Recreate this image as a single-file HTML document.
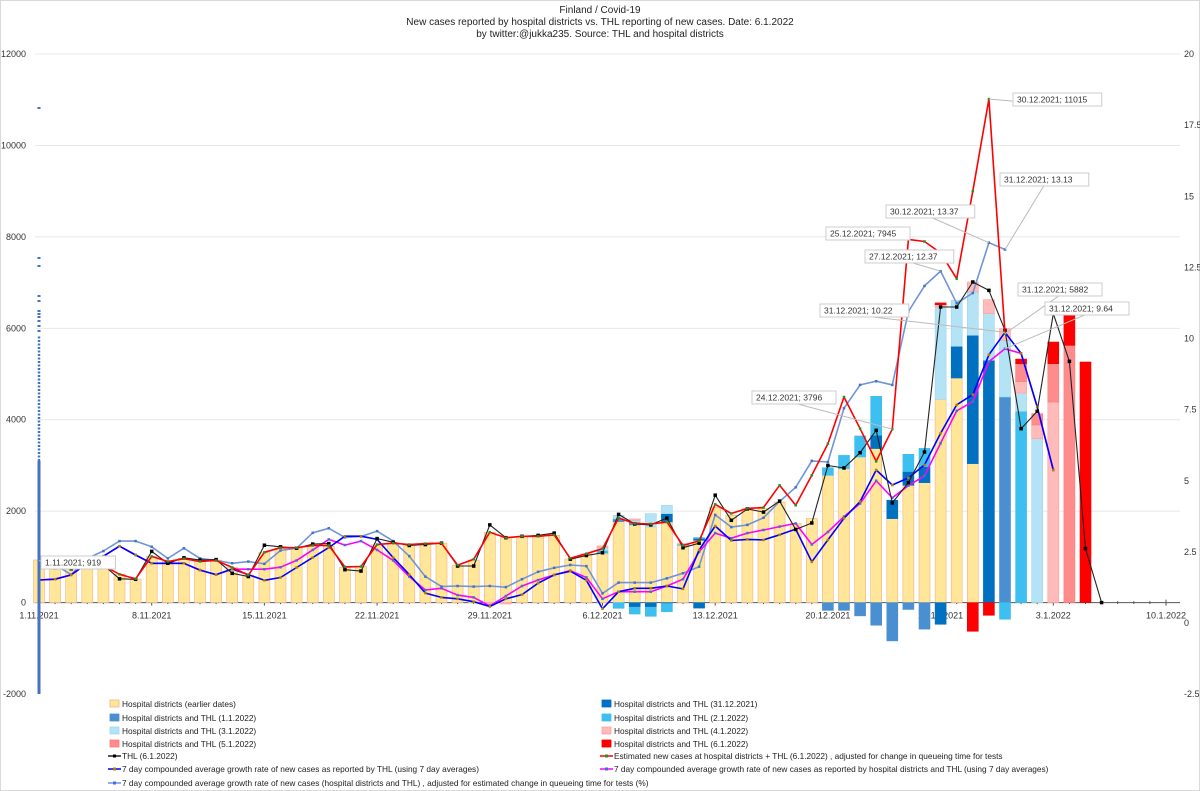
<!DOCTYPE html>
<html><head><meta charset="utf-8"><style>
html,body{margin:0;padding:0;background:#fff;}
svg{display:block;font-family:"Liberation Sans",sans-serif;}
</style></head><body>
<svg id="chart" width="1200" height="791" viewBox="0 0 1200 791" xmlns="http://www.w3.org/2000/svg">
<rect x="0.5" y="0.5" width="1199" height="790" fill="#fff" stroke="#d9d9d9"/>
<g font-size="10" fill="#222" text-anchor="middle">
<text x="600" y="13">Finland / Covid-19</text>
<text x="600" y="25">New cases reported by hospital districts vs. THL reporting of new cases. Date: 6.1.2022</text>
<text x="600" y="37">by twitter:@jukka235. Source: THL and hospital districts</text>
</g>
<g id="grid"></g>
<g id="axes"></g>
<g id="bars"></g>
<g id="lines"></g>
<g id="callouts"></g>
<g id="legend"></g>
</svg>
<script>
const startDay = "1.11.2021";
const xTickLabels = ["1.11.2021","8.11.2021","15.11.2021","22.11.2021","29.11.2021","6.12.2021","13.12.2021","20.12.2021","27.12.2021","3.1.2022","10.1.2022"];
const leftTicks = [-2000,0,2000,4000,6000,8000,10000,12000];
const rightTicks = [-2.5,0,2.5,5,7.5,10,12.5,15,17.5,20];
const earlier = [933,770,750,770,800,620,515,1007,900,970,900,930,765,600,1095,1190,1190,1250,1230,770,790,1265,1300,1265,1285,1300,810,930,1536,1425,1448,1448,1470,955,1065,1080,1770,1700,1655,1765,1254,1363,2090,1910,2055,2055,2200,1730,1840,2785,2930,3186,3370,1837,2566,2624,4447,4913,3040,0,0,0,0,0,0,0,0];
const thl3112 = [0,0,0,0,0,0,0,0,0,0,0,0,0,0,0,0,0,0,0,0,0,0,0,0,0,0,0,0,0,0,0,0,0,0,0,0,0,-100,-100,-20,0,-120,0,0,0,0,0,0,0,0,0,0,290,403,300,350,-474,693,2807,5300,0,0,0,0,0,0,0];
const thl3112pos = [0,0,0,0,0,0,0,0,0,0,0,0,0,0,0,0,0,0,0,0,0,0,0,0,0,0,0,0,0,0,0,0,0,0,0,0,0,0,0,180,0,40,0,0,0,0,0,0,0,0,0,0,0,0,0,0,0,0,0,0,0,0,0,0,0,0,0];
const thl0101 = [0,0,0,0,0,0,0,0,0,0,0,0,0,0,0,0,0,0,0,0,0,0,0,0,0,0,0,0,0,0,0,0,0,0,0,0,60,60,0,0,0,0,0,0,0,0,0,0,0,-170,-170,-290,-495,-838,-150,-580,0,0,0,0,4498,0,0,0,0,0,0];
const thl0201 = [0,0,0,0,0,0,0,0,0,0,0,0,0,0,0,0,0,0,0,0,0,0,0,0,0,0,0,0,0,0,0,0,0,0,0,60,-125,-150,-200,-180,20,20,0,0,0,0,0,0,0,165,290,459,852,0,378,400,0,0,0,0,-364,4184,0,0,0,0,0];
const thl0301 = [0,0,0,0,0,0,0,0,0,0,0,0,0,0,0,0,0,0,0,0,0,0,0,0,0,0,0,0,0,0,0,0,0,0,0,60,80,40,291,182,0,0,0,0,0,0,0,0,0,0,0,0,0,0,0,0,2019,1006,947,1020,1239,400,3587,0,0,0,0];
const thl0401 = [0,0,0,0,0,0,0,0,0,0,0,0,0,0,0,0,0,0,0,0,0,0,0,0,0,0,0,0,-30,-30,0,0,0,0,0,40,0,30,0,0,20,0,0,0,0,0,0,0,0,0,0,0,0,0,0,0,50,0,219,307,255,250,300,4388,0,0,0];
const thl0501 = [0,0,0,0,0,0,0,0,0,0,0,0,0,0,0,0,0,0,0,0,0,0,0,0,0,0,0,0,0,0,0,0,0,0,0,0,0,0,0,0,0,0,0,0,0,0,0,0,0,0,0,0,0,0,0,0,0,0,0,0,0,393,246,839,5628,0,0];
const thl0601 = [0,0,0,0,0,0,0,0,0,0,0,0,0,0,0,0,0,0,0,0,0,0,0,0,0,0,0,0,0,0,0,0,0,0,0,0,0,0,0,0,0,0,0,0,0,0,0,0,0,0,0,0,0,0,0,0,40,0,-627,-277,0,100,0,473,692,5263,0];
const thlLine = [null,760,740,780,820,520,510,1120,860,980,930,940,640,570,1255,1220,1190,1280,1290,720,690,1400,1320,1250,1270,1300,800,800,1700,1420,1450,1470,1520,950,1030,1090,1930,1720,1700,1850,1200,1300,2350,1800,2050,1980,2220,1600,1742,3000,2945,3280,3769,2180,2624,3295,6466,6466,7013,6830,5956,3805,4184,6320,5277,1181,0];
const estLine = [919,780,760,780,810,620,520,1010,900,960,900,920,770,600,1100,1200,1200,1250,1250,780,790,1270,1300,1270,1290,1300,820,950,1540,1420,1450,1450,1480,970,1070,1180,1850,1730,1720,1760,1250,1350,2150,1950,2060,2080,2566,2129,2785,3477,4498,3805,3090,3796,7945,7900,7650,7086,9000,11015,5882,null,null,null,null,null,null];
const growthTHL = [1.51,1.54,1.69,2.1,2.35,2.7,2.39,2.1,2.1,2.1,1.86,1.7,1.9,1.7,1.5,1.6,1.95,2.3,2.65,3.05,3.05,2.94,2.3,1.7,1.05,0.9,0.85,0.75,0.58,0.85,1.0,1.4,1.69,1.82,1.5,0.5,1.1,1.22,1.22,1.3,1.2,2.57,3.41,2.9,2.94,2.92,3.1,3.3,2.15,2.92,3.68,4.27,5.38,4.85,5.1,5.56,6.67,7.67,8.03,9.43,10.22,9.48,7.6,5.38,null,null,null];
const growthHosp = [1.51,1.54,1.69,2.1,2.35,2.7,2.39,2.1,2.1,2.1,1.86,1.7,1.89,1.89,1.89,1.96,2.2,2.57,2.94,2.74,2.88,2.57,2.2,1.63,1.16,1.22,0.98,0.9,0.6,0.95,1.3,1.51,1.69,1.84,1.6,0.85,1.1,1.1,1.1,1.3,1.54,2.5,3.16,2.98,3.16,3.27,3.39,3.5,2.76,3.2,3.74,4.2,5.0,4.4,4.83,5.17,6.32,7.46,7.78,9.19,9.64,9.48,7.6,5.38,null,null,null];
const growthAdj = [1.89,2.04,1.7,2.27,2.53,2.88,2.88,2.68,2.27,2.63,2.27,2.2,2.1,2.16,2.08,2.55,2.63,3.17,3.33,3.01,3.04,3.23,2.88,2.35,1.63,1.28,1.3,1.28,1.3,1.26,1.54,1.8,1.94,2.04,2.0,1.04,1.42,1.42,1.42,1.57,1.75,1.98,3.8,3.37,3.45,3.7,4.27,4.77,5.7,5.66,7.55,8.37,8.5,8.37,10.95,11.85,12.37,11.24,11.6,13.37,13.13,null,null,null,null,null,null];

const NS="http://www.w3.org/2000/svg";
function mk(tag,attrs,parent){const e=document.createElementNS(NS,tag);for(const k in attrs)e.setAttribute(k,attrs[k]);parent.appendChild(e);return e;}
const X0=39, DX=16.1, PL=35, PR=1180;
function xOf(i){return X0+i*DX;}
function yL(v){return 602.6-v*0.045714;}
function yR(v){return 623-v*28.444;}
const grid=document.getElementById('grid'), axes=document.getElementById('axes'), bars=document.getElementById('bars'), lines=document.getElementById('lines'), callouts=document.getElementById('callouts'), legend=document.getElementById('legend');

leftTicks.forEach(v=>{
  if(v!==0 && v!==-2000){const g=mk('line',{x1:PL,x2:PR,y1:yL(v),y2:yL(v),stroke:'#e8e8e8','stroke-width':1},grid);
  
  }
  const t=mk('text',{x:26,y:yL(v)+3,'font-size':9,'text-anchor':'end',fill:'#333'},axes);t.textContent=v;
  
  
});
rightTicks.forEach(v=>{
  const t=mk('text',{x:1184,y:yR(v)+3,'font-size':9,'text-anchor':'start',fill:'#333'},axes);t.textContent=v;
  
  
});
const ax=mk('line',{x1:PL,x2:PR,y1:yL(0),y2:yL(0),stroke:'#555','stroke-width':1},axes);


for(let d=0;d<=70;d++){
  const big=d%7===0;
  const tk=mk('line',{x1:xOf(d),x2:xOf(d),y1:yL(0)-(big?3:1.5),y2:yL(0)+(big?3:1.5),stroke:'#555','stroke-width':1},axes);
  
  
}
xTickLabels.forEach((lab,k)=>{
  const t=mk('text',{x:xOf(k*7),y:yL(0)+16,'font-size':9,'text-anchor':'middle',fill:'#333'},axes);t.textContent=lab;
  
  
});

const series=[
 {data:earlier,fill:'#FFE699',stroke:'#F4B183',name:'bar-earlier-dates'},
 {data:thl3112pos,fill:'#0070C0',stroke:'#0070C0',name:'bar-thl-31-12'},
 {data:thl3112,fill:'#0070C0',stroke:'#0070C0',name:'bar-thl-31-12'},
 {data:thl0101,fill:'#4A90D0',stroke:'#4A90D0',name:'bar-thl-1-1'},
 {data:thl0201,fill:'#3DBFF0',stroke:'#3DBFF0',name:'bar-thl-2-1'},
 {data:thl0301,fill:'#B4E3F6',stroke:'#9fd6ee',name:'bar-thl-3-1'},
 {data:thl0401,fill:'#FFBABA',stroke:'#ff9f9f',name:'bar-thl-4-1'},
 {data:thl0501,fill:'#FF8C8C',stroke:'#ff7a7a',name:'bar-thl-5-1'},
 {data:thl0601,fill:'#FF0000',stroke:'#ee0000',name:'bar-thl-6-1'}];
const n=earlier.length, BW=11;
for(let i=0;i<n;i++){
  let pos=0,neg=0;
  series.forEach(s=>{
    const v=s.data[i]; if(!v) return;
    let a,b;
    if(v>0){a=pos;b=pos+v;pos=b;} else {a=neg;b=neg+v;neg=b;}
    const y1=yL(Math.max(a,b)), y2=yL(Math.min(a,b));
    const r=mk('rect',{x:xOf(i)-BW/2,y:y1,width:BW,height:Math.max(0.5,y2-y1),fill:s.fill,stroke:s.stroke,'stroke-width':0.6},bars);
    
    
  });
}

function drawLine(arr,yf,color,w,mcol,ms,name){
  let d='',started=false;
  arr.forEach((v,i)=>{ if(v===null){started=false;return;} d+=(started?'L':'M')+xOf(i).toFixed(1)+','+yf(v).toFixed(1); started=true;});
  const p=mk('path',{d:d,fill:'none',stroke:color,'stroke-width':w,'stroke-linejoin':'round'},lines);
  
  
  arr.forEach((v,i)=>{ if(v===null)return;
    const c=mk('rect',{x:xOf(i)-ms/2,y:yf(v)-ms/2,width:ms,height:ms,fill:mcol},lines);
    
    
  });
}
drawLine(growthAdj,yR,'#6F95D8',1.6,'#4472C4',2.5,'line-growth-adjusted');
drawLine(growthHosp,yR,'#FF00FF',1.6,'#4472C4',2.5,'line-growth-hospital-thl');
drawLine(growthTHL,yR,'#0000FF',1.6,'#B08000',2.5,'line-growth-thl');
drawLine(thlLine,yL,'#222',1.1,'#000',3.5,'line-thl');
drawLine(estLine,yL,'#FF0000',1.6,'#2e8b2e',2.5,'line-estimated');

// vertical blue marker column at left axis
const vb=mk('line',{x1:39,x2:39,y1:694,y2:461,stroke:'#4472C4','stroke-width':3},lines);


const vb2=mk('line',{x1:39,x2:39,y1:461,y2:335,stroke:'#4472C4','stroke-width':2.5,'stroke-dasharray':'2 1.5'},lines);


[107,257,265,295,300,310,313,316,320,325,330].forEach(y=>{
  const c=mk('rect',{x:37.5,y:y,width:3,height:2,fill:'#4472C4'},lines);
  
  
});

const calls=[
 ["1.11.2021; 919",41,556,0,estLine[0],'L'],
 ["24.12.2021; 3796",752,391,53,estLine[53],'L'],
 ["25.12.2021; 7945",826,227,54,estLine[54],'L'],
 ["27.12.2021; 12.37",865,250,56,growthAdj[56],'R'],
 ["30.12.2021; 13.37",886,205,59,growthAdj[59],'R'],
 ["31.12.2021; 13.13",1000,173,60,growthAdj[60],'R'],
 ["30.12.2021; 11015",1013,93,59,estLine[59],'L'],
 ["31.12.2021; 10.22",820,304,60,growthTHL[60],'R'],
 ["31.12.2021; 5882",1018,283,60,estLine[60],'L'],
 ["31.12.2021; 9.64",1045,302,60,growthHosp[60],'R']];
calls.forEach(c=>{
  const w=c[0].length*4.75+8;
  const py=c[5]==='L'?yL(c[4]):yR(c[4]);
  const ln=mk('line',{x1:c[1]+w/2,y1:c[2]+12,x2:xOf(c[3]),y2:py,stroke:'#bbb','stroke-width':1},callouts);
  
  
  const r=mk('rect',{x:c[1],y:c[2],width:w,height:13,fill:'#fff',stroke:'#ccc','stroke-width':1},callouts);
  
  
  const t=mk('text',{x:c[1]+4,y:c[2]+9.5,'font-size':8.5,fill:'#333'},callouts);t.textContent=c[0];
  
  
});

const legRows=[
 [108,704,'box','#FFE699','#F4B183','Hospital districts (earlier dates)'],
 [600,704,'box','#0070C0','#0070C0','Hospital districts and THL (31.12.2021)'],
 [108,718,'box','#4A90D0','#4A90D0','Hospital districts and THL (1.1.2022)'],
 [600,718,'box','#3DBFF0','#3DBFF0','Hospital districts and THL (2.1.2022)'],
 [108,731,'box','#B4E3F6','#9fd6ee','Hospital districts and THL (3.1.2022)'],
 [600,731,'box','#FFBABA','#ff9f9f','Hospital districts and THL (4.1.2022)'],
 [108,744,'box','#FF8C8C','#ff7a7a','Hospital districts and THL (5.1.2022)'],
 [600,744,'box','#FF0000','#ee0000','Hospital districts and THL (6.1.2022)'],
 [108,756,'line','#222','#000','THL (6.1.2022)'],
 [600,756,'line','#FF0000','#2e8b2e','Estimated new cases at hospital districts + THL (6.1.2022) , adjusted for change in queueing time for tests'],
 [108,769,'line','#0000FF','#B08000','7 day compounded average growth rate of new cases as reported by THL (using 7 day averages)'],
 [600,769,'line','#FF00FF','#4472C4','7 day compounded average growth rate of new cases as reported by hospital districts and THL (using 7 day averages)'],
 [108,783,'line','#6F95D8','#4472C4','7 day compounded average growth rate of new cases (hospital districts and THL) , adjusted for estimated change in queueing time for tests (%)']];
legRows.forEach(r=>{
  const g=mk('g',{},legend);
  
  
  if(r[2]==='box'){mk('rect',{x:r[0]+2,y:r[1]-4,width:9,height:7,fill:r[3],stroke:r[4],'stroke-width':0.8},g);}
  else {mk('line',{x1:r[0],x2:r[0]+13,y1:r[1],y2:r[1],stroke:r[3],'stroke-width':1.5},g);mk('rect',{x:r[0]+5,y:r[1]-1.5,width:3,height:3,fill:r[4]},g);}
  const t=mk('text',{x:r[0]+14,y:r[1]+3,'font-size':8.3,fill:'#222'},g);t.textContent=r[5];
});
</script>
</body></html>
